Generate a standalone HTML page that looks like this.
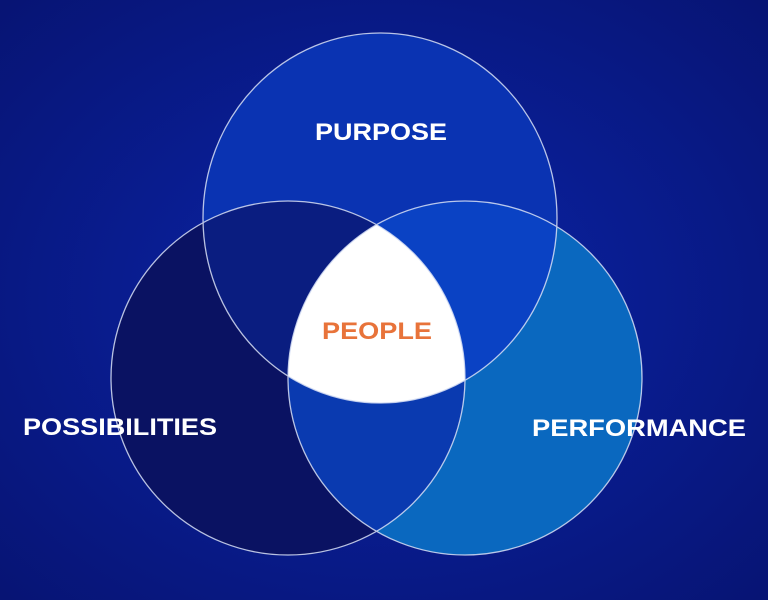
<!DOCTYPE html>
<html><head><style>
html,body{margin:0;padding:0;width:768px;height:600px;overflow:hidden;background:#0a1a8c}
</style></head><body>
<svg width="768" height="600" viewBox="0 0 768 600" xmlns="http://www.w3.org/2000/svg">
<defs>
<radialGradient id="bg" cx="50%" cy="50%" r="70%">
<stop offset="0" stop-color="#0b24a8"/><stop offset="1" stop-color="#071474"/>
</radialGradient>
<clipPath id="cT"><ellipse cx="380" cy="218" rx="177" ry="185"/></clipPath>
<clipPath id="cL"><circle cx="288" cy="378" r="177"/></clipPath>
<clipPath id="cR"><circle cx="465" cy="378" r="177"/></clipPath>
</defs>
<rect width="768" height="600" fill="url(#bg)"/>
<ellipse cx="380" cy="218" rx="177" ry="185" fill="#0a33b2"/>
<circle cx="288" cy="378" r="177" fill="#0a1262"/>
<circle cx="465" cy="378" r="177" fill="#0a68bf"/>
<g clip-path="url(#cT)"><circle cx="288" cy="378" r="177" fill="#0a1d80"/></g>
<g clip-path="url(#cT)"><circle cx="465" cy="378" r="177" fill="#0a42c4"/></g>
<g clip-path="url(#cL)"><circle cx="465" cy="378" r="177" fill="#0a3ab0"/></g>
<g clip-path="url(#cT)"><g clip-path="url(#cL)"><circle cx="465" cy="378" r="177" fill="#ffffff"/></g></g>
<g fill="none" stroke="#d8e0f5" stroke-width="1.3" opacity="0.85">
<ellipse cx="380" cy="218" rx="177" ry="185"/>
<circle cx="288" cy="378" r="177"/>
<circle cx="465" cy="378" r="177"/>
</g>
<g font-family="Liberation Sans, sans-serif" font-weight="bold" font-size="24" fill="#ffffff" lengthAdjust="spacingAndGlyphs">
<text x="315" y="140" textLength="132" lengthAdjust="spacingAndGlyphs">PURPOSE</text>
<text x="322" y="339" fill="#e8733a" textLength="110" lengthAdjust="spacingAndGlyphs">PEOPLE</text>
<text x="23" y="435" textLength="194" lengthAdjust="spacingAndGlyphs">POSSIBILITIES</text>
<text x="532" y="436" textLength="214" lengthAdjust="spacingAndGlyphs">PERFORMANCE</text>
</g>
</svg>
</body></html>
